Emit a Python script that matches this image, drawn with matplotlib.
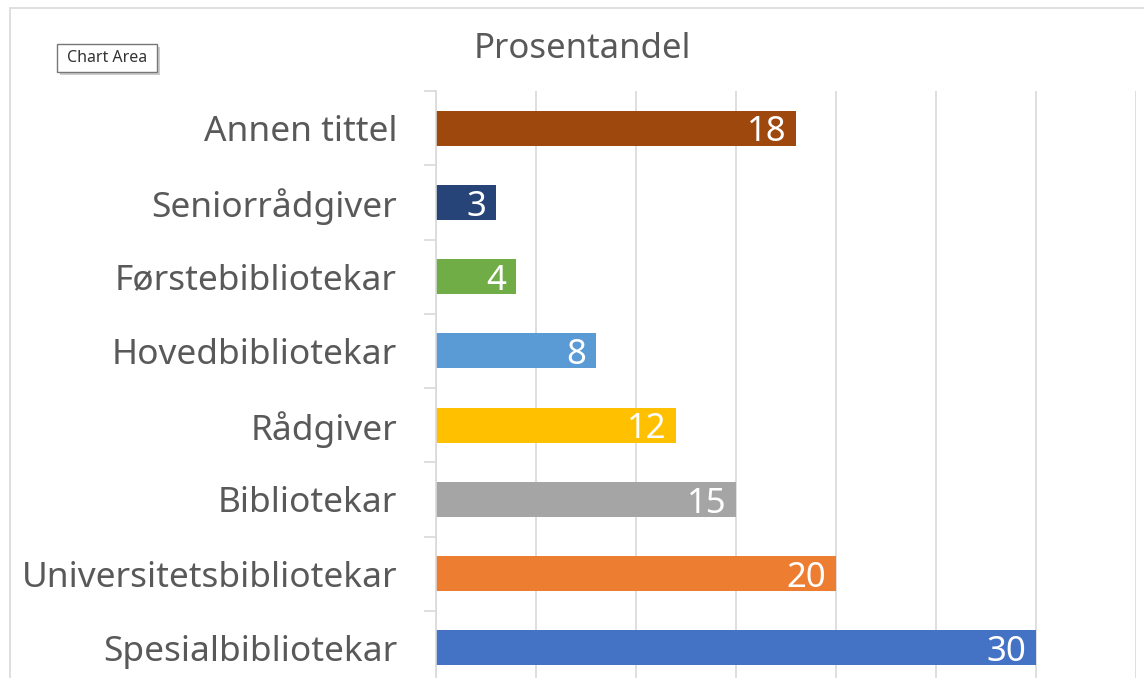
import matplotlib.pyplot as plt
from matplotlib.patches import Rectangle

# data, bottom to top as drawn
categories = ['Spesialbibliotekar', 'Universitetsbibliotekar', 'Bibliotekar', 'Rådgiver',
              'Hovedbibliotekar', 'Førstebibliotekar', 'Seniorrådgiver', 'Annen tittel']
values = [30, 20, 15, 12, 8, 4, 3, 18]
colors = ['#4472C4', '#ED7D31', '#A5A5A5', '#FFC000',
          '#5B9BD5', '#70AD47', '#264478', '#9E480E']

TEXT = '#595959'
GRID = '#D9D9D9'
plt.rcParams['font.family'] = ['Noto Sans', 'DejaVu Sans']

W, H = 1144, 678
fig = plt.figure(figsize=(W / 100, H / 100), dpi=100)

# chart area border (left and top edges visible)
fig.add_artist(Rectangle((10 / W, -0.1), 1.2, (H - 8) / H + 0.1, transform=fig.transFigure,
                         fill=False, edgecolor=GRID, linewidth=1.2))

# plot area: axes runs a bit below the bottom edge of the picture
ax = fig.add_axes([436 / W, (H - 685) / H, 700 / W, 594 / H])
y = range(len(categories))
bars = ax.barh(y, values, height=0.47, color=colors, zorder=2)
ax.set_xlim(0, 35)
ax.set_ylim(-0.5, len(categories) - 0.5)

ax.set_xticks(range(0, 36, 5))
ax.xaxis.grid(True, color=GRID, linewidth=1.2, zorder=0)
ax.tick_params(axis='x', length=0, labelbottom=False)

ax.set_yticks(list(y))
ax.set_yticklabels(categories, fontsize=25.4, color=TEXT)
ax.set_yticks([i - 0.5 for i in range(len(categories) + 1)], minor=True)
ax.tick_params(axis='y', which='major', length=0, pad=28)
ax.tick_params(axis='y', which='minor', length=9, width=1.2, color=GRID)

for s in ['top', 'right', 'bottom']:
    ax.spines[s].set_visible(False)
ax.spines['left'].set_color(GRID)
ax.spines['left'].set_linewidth(1.2)

for bar, v in zip(bars, values):
    ax.annotate(str(v), (bar.get_width(), bar.get_y() + bar.get_height() / 2),
                xytext=(-7, -3), textcoords='offset points', ha='right', va='center',
                color='white', fontsize=25)

fig.text(582 / W, 1 - 49 / H, 'Prosentandel', ha='center', va='center', fontsize=25, color=TEXT)

# "Chart Area" tooltip with a little shadow
fig.add_artist(Rectangle((60 / W, 1 - 75 / H), 100 / W, 28 / H, transform=fig.transFigure,
                         facecolor='#AAAAAA', edgecolor='none', alpha=0.6))
fig.add_artist(Rectangle((57 / W, 1 - 72 / H), 100 / W, 28 / H, transform=fig.transFigure,
                         facecolor='white', edgecolor='#777777', linewidth=1))
fig.text(107 / W, 1 - 58 / H, 'Chart Area', ha='center', va='center', fontsize=11.5, color='#333333')

fig.savefig('out.png', dpi=100)
